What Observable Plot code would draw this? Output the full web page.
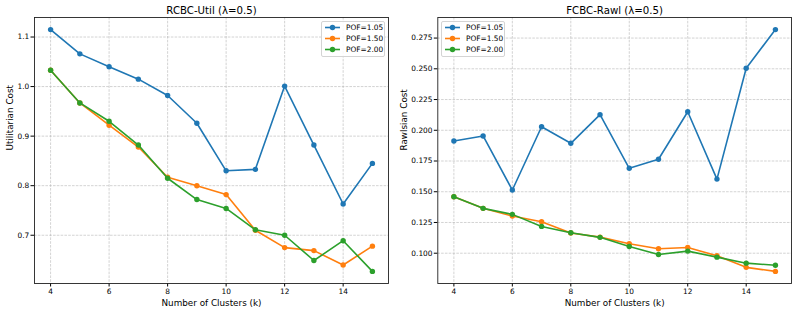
<!DOCTYPE html>
<html>
<head>
<meta charset="utf-8">
<script src="https://cdn.jsdelivr.net/npm/d3@7"></script>
<script src="https://cdn.jsdelivr.net/npm/@observablehq/plot@0.6"></script>
<style>
  html, body { margin: 0; padding: 0; background: #fff; }
  #wrap { position: relative; width: 797px; height: 313px; display: flex; font-family: "DejaVu Sans", sans-serif; }
  .panel { position: relative; height: 313px; }
  .legend { position: absolute; box-sizing: border-box; border: 0.8px solid #d4d4d4; border-radius: 2px; background: rgba(255,255,255,0.85); }
</style>
</head>
<body>
<div id="wrap"></div>
<script>
// ---- data ----
const clusters = [4, 5, 6, 7, 8, 9, 10, 11, 12, 13, 14, 15];
const seriesLabels = ["POF=1.05", "POF=1.50", "POF=2.00"];
const seriesColors = ["#1f77b4", "#ff7f0e", "#2ca02c"];

const utilPOF105 = [1.115, 1.066, 1.040, 1.015, 0.982, 0.926, 0.830, 0.833, 1.001, 0.882, 0.763, 0.845];
const utilPOF150 = [1.033, 0.967, 0.922, 0.878, 0.817, 0.800, 0.782, 0.710, 0.675, 0.669, 0.640, 0.678];
const utilPOF200 = [1.033, 0.967, 0.930, 0.882, 0.815, 0.772, 0.754, 0.711, 0.700, 0.649, 0.689, 0.627];

const rawlPOF105 = [0.1913, 0.1954, 0.1514, 0.2029, 0.1894, 0.2127, 0.1691, 0.1764, 0.2151, 0.1603, 0.2505, 0.2819];
const rawlPOF150 = [0.1459, 0.1365, 0.1302, 0.1256, 0.1164, 0.1131, 0.1077, 0.1036, 0.1047, 0.0979, 0.0885, 0.0852];
const rawlPOF200 = [0.1459, 0.1365, 0.1316, 0.1218, 0.1167, 0.1129, 0.1055, 0.0990, 0.1017, 0.0968, 0.0919, 0.0902];

const xTicks = [4, 6, 8, 10, 12, 14];
const utilTicks = [0.7, 0.8, 0.9, 1.0, 1.1];
const rawlTicks = [0.100, 0.125, 0.150, 0.175, 0.200, 0.225, 0.250, 0.275];

const titles = ["RCBC-Util (λ=0.5)", "FCBC-Rawl (λ=0.5)"];
const yLabels = ["Utilitarian Cost", "Rawlsian Cost"];
const xLabel = "Number of Clusters (k)";

// ---- helpers ----
function padded(ext) {
  const m = (ext[1] - ext[0]) * 0.05;
  return [ext[0] - m, ext[1] + m];
}

function panel(opts) {
  const {title, ylabel, series, yTicks, yFormat, width, marginLeft, marginRight, ylabelDx, legendLeft} = opts;
  const rows = [];
  series.forEach((vals, i) => vals.forEach((v, j) => rows.push({k: clusters[j], v, s: seriesLabels[i]})));
  const yDomain = padded(d3.extent(rows, d => d.v));
  const xDomain = padded(d3.extent(clusters));

  const gridStyle = {stroke: "#b0b0b0", strokeOpacity: 0.8, strokeWidth: 0.7, strokeDasharray: "2.6,1.2"};
  const marks = [
    Plot.gridX(xTicks, gridStyle),
    Plot.gridY(yTicks, gridStyle),
  ];
  seriesLabels.forEach(lbl => {
    const d = rows.filter(r => r.s === lbl);
    marks.push(Plot.line(d, {x: "k", y: "v", stroke: "s", strokeWidth: 1.6}));
    marks.push(Plot.dot(d, {x: "k", y: "v", fill: "s", r: 2.7, stroke: "none"}));
  });
  marks.push(
    Plot.axisX(xTicks, {tickSize: 3.5, tickPadding: 1.5, label: null, fontSize: 7.4, stroke: "#000"}),
    Plot.axisY(yTicks, {tickSize: 3.5, tickPadding: 1.8, label: null, tickFormat: d3.format(yFormat), fontSize: 7.4, stroke: "#000"}),
    Plot.frame({stroke: "#222", strokeWidth: 0.9}),
    Plot.text([title], {frameAnchor: "top", dy: -7, fontSize: 10.2, fill: "#000", lineAnchor: "middle"}),
    Plot.text([xLabel], {frameAnchor: "bottom", dy: 20, fontSize: 8.8, fill: "#000", lineAnchor: "middle"}),
    Plot.text([ylabel], {frameAnchor: "left", dx: ylabelDx, rotate: -90, fontSize: 8.8, fill: "#000", lineAnchor: "middle"})
  );

  const svg = Plot.plot({
    width, height: 313,
    marginLeft, marginRight, marginTop: 17, marginBottom: 30,
    x: {domain: xDomain, axis: null},
    y: {domain: yDomain, axis: null},
    color: {domain: seriesLabels, range: seriesColors},
    style: {fontFamily: "DejaVu Sans, sans-serif", fontSize: "7.4px", color: "#000", background: "white", overflow: "visible"},
    marks
  });

  const div = document.createElement("div");
  div.className = "panel";
  div.style.width = width + "px";
  div.appendChild(svg);

  // legend
  const lw = 64, lh = 36;
  const leg = document.createElement("div");
  leg.className = "legend";
  leg.style.left = legendLeft + "px";
  leg.style.top = "21px";
  leg.style.width = lw + "px";
  leg.style.height = lh + "px";
  const ns = "http://www.w3.org/2000/svg";
  const ls = document.createElementNS(ns, "svg");
  ls.setAttribute("width", lw);
  ls.setAttribute("height", lh);
  ls.style.position = "absolute";
  ls.style.left = "-0.8px";
  ls.style.top = "-0.8px";
  seriesLabels.forEach((lbl, i) => {
    const y = 6.5 + i * 11;
    const line = document.createElementNS(ns, "line");
    line.setAttribute("x1", 4); line.setAttribute("x2", 19);
    line.setAttribute("y1", y); line.setAttribute("y2", y);
    line.setAttribute("stroke", seriesColors[i]); line.setAttribute("stroke-width", 1.6);
    ls.appendChild(line);
    const c = document.createElementNS(ns, "circle");
    c.setAttribute("cx", 11.5); c.setAttribute("cy", y); c.setAttribute("r", 2.7);
    c.setAttribute("fill", seriesColors[i]);
    ls.appendChild(c);
    const t = document.createElementNS(ns, "text");
    t.setAttribute("x", 25); t.setAttribute("y", y);
    t.setAttribute("dy", "0.35em");
    t.setAttribute("font-size", "7.4px");
    t.setAttribute("font-family", "DejaVu Sans, sans-serif");
    t.textContent = lbl;
    ls.appendChild(t);
  });
  leg.appendChild(ls);
  div.appendChild(leg);
  return div;
}

const wrap = document.getElementById("wrap");
wrap.appendChild(panel({
  title: titles[0], ylabel: yLabels[0],
  series: [utilPOF105, utilPOF150, utilPOF200],
  yTicks: utilTicks, yFormat: ".1f",
  width: 398, marginLeft: 34, marginRight: 10, ylabelDx: -24,
  legendLeft: 320.5
}));
wrap.appendChild(panel({
  title: titles[1], ylabel: yLabels[1],
  series: [rawlPOF105, rawlPOF150, rawlPOF200],
  yTicks: rawlTicks, yFormat: ".3f",
  width: 399, marginLeft: 39.3, marginRight: 6, ylabelDx: -33.8,
  legendLeft: 43
}));
</script>
</body>
</html>
